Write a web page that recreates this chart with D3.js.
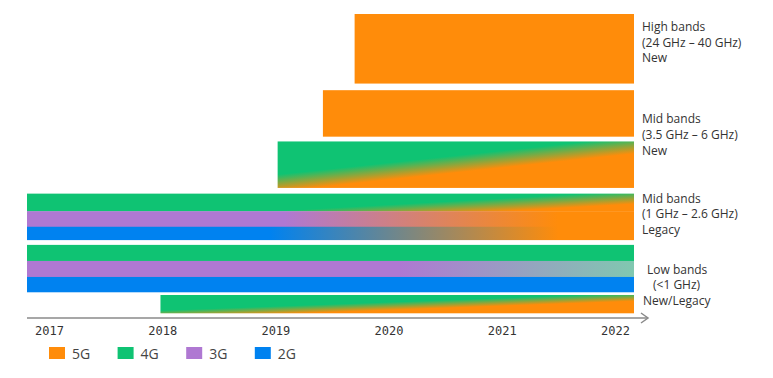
<!DOCTYPE html>
<html><head><meta charset="utf-8">
<script src="https://cdn.jsdelivr.net/npm/d3@7"></script>
<style>body{margin:0;background:#fff}</style>
</head><body><svg id="c" width="773" height="378"></svg>
<script>
// ---------- data ----------
const years = [2017, 2018, 2019, 2020, 2021, 2022];
const techs = ["5G", "4G", "3G", "2G"];
const techColors = ["#FF8C0A", "#0FC373", "#AF78D2", "#0082F0"];
const timeline = [2016.806, 2022.168];
const rowIds = ["high", "mid5G", "midNew", "midLegacy", "low", "lowNew"];
const rowStart = [2019.70, 2019.42, 2019.02, 2016.806, 2016.806, 2017.985];
const rowTechs = [["5G"], ["5G"], ["4G"], ["4G", "3G", "2G"], ["4G", "3G", "2G"], ["4G"]];
const bandLabels = [
  ["High bands", "(24 GHz \u2013 40 GHz)", "New"],
  ["Mid bands", "(3.5 GHz \u2013 6 GHz)", "New"],
  ["Mid bands", "(1 GHz \u2013 2.6 GHz)", "Legacy"],
  ["Low bands", "(<1 GHz)", "New/Legacy"]
];

// ---------- layout ----------
const svg = d3.select("#c");
const defs = svg.append("defs");
const color = d3.scaleOrdinal().domain(techs).range(techColors);
const x = d3.scaleLinear().domain(timeline).range([27, 634]);

const rowWeights = [1.5, 1, 1, 1, 1.02, 0.39];
const rowGaps = [0.15, 0.11, 0.13, 0.11, 0.065];
let acc = 0; const rowPos = [];
rowWeights.forEach((w, i) => { rowPos.push([acc, acc + w]); acc += w + (rowGaps[i] || 0); });
const yU = d3.scaleLinear().domain([0, acc]).range([14, 313]);
const rowTop = i => yU(rowPos[i][0]);
const rowBot = i => yU(rowPos[i][1]);
const stripeWeights = { midLegacy: [17.5, 15.5, 13], low: [16, 16, 15] };

function diag(id, c0, c1, xa, ya, xb, yb, w) {
  const dx = xb - xa, dy = yb - ya, len = Math.hypot(dx, dy);
  const nx = -dy / len, ny = dx / len;
  const mx = (xa + xb) / 2, my = (ya + yb) / 2;
  const g = defs.append("linearGradient").attr("id", id).attr("gradientUnits", "userSpaceOnUse")
    .attr("x1", mx - nx * w / 2).attr("y1", my - ny * w / 2)
    .attr("x2", mx + nx * w / 2).attr("y2", my + ny * w / 2);
  g.append("stop").attr("offset", 0).attr("stop-color", c0);
  g.append("stop").attr("offset", 1).attr("stop-color", c1);
  return `url(#${id})`;
}
function horiz(id, c0, c1, xa, xb) {
  const g = defs.append("linearGradient").attr("id", id).attr("gradientUnits", "userSpaceOnUse")
    .attr("x1", xa).attr("y1", 0).attr("x2", xb).attr("y2", 0);
  g.append("stop").attr("offset", 0).attr("stop-color", c0);
  g.append("stop").attr("offset", 1).attr("stop-color", c1);
  return `url(#${id})`;
}

const rects = [];
rowIds.forEach((id, i) => {
  const t = rowTechs[i];
  const top = rowTop(i), h = rowBot(i) - top;
  const ws = stripeWeights[id] || t.map(() => 1);
  const sum = d3.sum(ws);
  let y0 = top;
  t.forEach((tech, k) => {
    const sh = h * ws[k] / sum;
    rects.push({ row: id, tech, x0: x(rowStart[i]), x1: x(timeline[1]), y0, y1: y0 + sh, fill: color(tech) });
    y0 += sh;
  });
});

const O = color("5G"), G = color("4G"), P = color("3G"), B = color("2G");
function rowFrac(i, f) { return rowTop(i) + (rowBot(i) - rowTop(i)) * f; }
rects.forEach(r => {
  if (r.row === "midNew")
    r.fill = diag("gMidNew", G, O, x(2019.02), rowFrac(2, 0.9), x(2022.17), rowFrac(2, 0.08), 17);
  if (r.row === "lowNew")
    r.fill = diag("gLowNew", G, O, x(2018.33), rowFrac(5, 1.0), x(2022.17), rowFrac(5, 0.12), 8);
  if (r.row === "midLegacy") {
    if (r.tech === "4G") r.fill = diag("gLeg4G", G, O, x(2020.0), r.y1, x(2022.17), r.y0 + (r.y1 - r.y0) * 0.22, 13);
    if (r.tech === "3G") r.fill = horiz("gLeg3G", P, O, x(2019.08), x(2021.5));
    if (r.tech === "2G") r.fill = horiz("gLeg2G", B, O, x(2018.95), x(2021.5));
  }
  if (r.row === "low" && r.tech === "3G") r.fill = horiz("gLow3G", P, "#80C8B0", x(2020.1), x(2022.17));
});

svg.append("g").selectAll("rect").data(rects).join("rect")
  .attr("x", d => d.x0).attr("y", d => d.y0)
  .attr("width", d => d.x1 - d.x0).attr("height", d => d.y1 - d.y0 + 0.3)
  .attr("fill", d => d.fill);

// axis
const axisY = 318;
const ax = svg.append("g").attr("transform", `translate(0,${axisY})`)
  .call(d3.axisBottom(x).tickValues(years).tickFormat(d3.format("d")).tickSize(0).tickPadding(8));
ax.select(".domain").remove();
ax.selectAll("text").attr("font-family", "DejaVu Sans Mono").attr("font-size", 12).attr("fill", "#333");
const axEnd = x.range()[1] + 14;
svg.append("line").attr("x1", x.range()[0]).attr("x2", axEnd).attr("y1", axisY).attr("y2", axisY)
  .attr("stroke", "#8a8a8a").attr("stroke-width", 1.6);
svg.append("path").attr("d", `M${axEnd - 7},${axisY - 5}L${axEnd},${axisY}L${axEnd - 7},${axisY + 5}`)
  .attr("fill", "none").attr("stroke", "#8a8a8a").attr("stroke-width", 1.5);

// right labels
const labelAnchors = [
  (rowTop(0) + rowBot(0)) / 2 - 2,
  (rowTop(1) + rowBot(2)) / 2,
  (rowTop(3) + rowBot(3)) / 2 + 1.5,
  rowBot(4) - 2.5
];
const lineDx = [[0, 0, 0], [0, 0, 0], [0, 0, 0], [5, 11, 1]];
bandLabels.forEach((lines, i) => {
  const t = svg.append("text").attr("font-family", "Open Sans").attr("font-size", 12).attr("fill", "#333");
  lines.forEach((s, k) => {
    t.append("tspan").attr("x", 642 + lineDx[i][k]).attr("y", labelAnchors[i] + (k - 1) * 15.6).text(s);
  });
});

// legend
const lg = svg.append("g").selectAll("g").data(techs).join("g")
  .attr("transform", (d, i) => `translate(${49 + i * 68.6},347)`);
lg.append("rect").attr("width", 16).attr("height", 12).attr("fill", d => color(d));
lg.append("text").attr("x", 23).attr("y", 12).attr("font-family", "Open Sans").attr("font-size", 14)
  .attr("fill", "#444").text(d => d);
</script></body></html>
